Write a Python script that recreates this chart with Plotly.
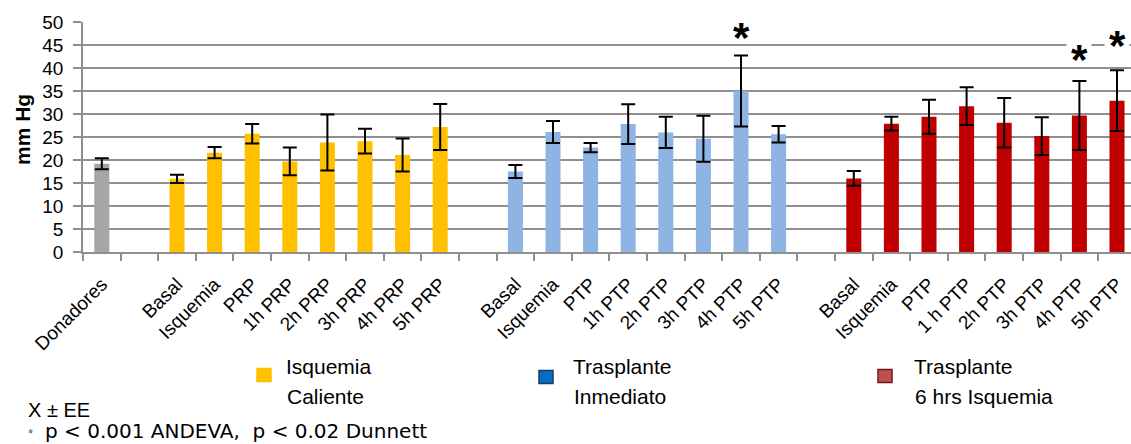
import plotly.graph_objects as go

# ---------------- data ----------------
donor_labels = ["Donadores"]
donor_mean = [19.2]
donor_err = [1.2]

wi_labels = ["Basal", "Isquemia", "PRP", "1h PRP", "2h PRP", "3h PRP", "4h PRP", "5h PRP"]
wi_mean = [15.9, 21.6, 25.7, 19.7, 23.8, 24.1, 21.1, 27.2]
wi_err = [0.9, 1.2, 2.1, 3.0, 6.1, 2.7, 3.6, 5.0]

ti_labels = ["Basal", "Isquemia", "PTP", "1h PTP", "2h PTP", "3h PTP", "4h PTP", "5h PTP"]
ti_mean = [17.5, 26.1, 22.7, 27.8, 26.0, 24.6, 35.0, 25.6]
ti_err = [1.4, 2.4, 1.0, 4.3, 3.4, 5.0, 7.7, 1.8]

t6_labels = ["Basal", "Isquemia", "PTP", "1 h PTP", "2h PTP", "3h PTP", "4h PTP", "5h PTP"]
t6_mean = [16.0, 27.9, 29.4, 31.7, 28.1, 25.2, 29.7, 32.9]
t6_err = [1.6, 1.5, 3.7, 4.1, 5.4, 4.1, 7.5, 6.6]

y_ticks = [0, 5, 10, 15, 20, 25, 30, 35, 40, 45, 50]
y_title = "mm Hg"

legend_texts = [["Isquemia", "Caliente"], ["Trasplante", "Inmediato"], ["Trasplante", "6 hrs Isquemia"]]
note_lines = ["X \u00b1 EE", "p < 0.001 ANDEVA,\u00a0\u00a0p < 0.02 Dunnett"]

# significance stars: (group, index within group, y position of star)
stars = [("ti", 6, 48.3), ("t6", 6, 43.5), ("t6", 7, 46.7)]

# ---------------- layout helpers ----------------
W, H = 1131, 444
ML, MT, MR, MB = 83, 22, 0, 192
PW = W - ML - MR
PH = H - MT - MB


def pxx(x):
    return (x - ML) / PW


def pxy(y):
    return (H - MB - y) / PH


starts = {"donor": 0, "wi": 2, "ti": 11, "t6": 20}
groups = [
    ("donor", donor_labels, donor_mean, donor_err, "#A6A6A6"),
    ("wi", wi_labels, wi_mean, wi_err, "#FFC000"),
    ("ti", ti_labels, ti_mean, ti_err, "#8EB4E3"),
    ("t6", t6_labels, t6_mean, t6_err, "#C00000"),
]

fig = go.Figure()
tickvals, ticktext = [], []
for key, labels, means, errs, color in groups:
    xs = [starts[key] + i for i in range(len(labels))]
    tickvals += xs
    ticktext += labels
    fig.add_trace(go.Bar(
        x=xs, y=means, width=0.4, marker=dict(color=color, line=dict(width=0)),
        error_y=dict(type="data", array=errs, visible=True, color="#000000", thickness=2, width=7),
        showlegend=False,
    ))

grid_col = "#8F8F8F"
fig.update_layout(
    width=W, height=H,
    margin=dict(l=ML, r=MR, t=MT, b=MB, pad=0),
    paper_bgcolor="white", plot_bgcolor="white",
    font=dict(family="Liberation Sans", color="#000000"),
    xaxis=dict(
        range=[-0.5, -0.5 + PW / 37.6], tickmode="array", tickvals=tickvals, ticktext=ticktext,
        tickangle=-45, ticks="", showgrid=False, zeroline=False,
        showline=True, linecolor=grid_col, linewidth=1.5,
        tickfont=dict(size=19, family="Liberation Sans"), ticklabelstandoff=12,
        minor=dict(ticks="outside", tickmode="linear", tick0=-0.5, dtick=1, ticklen=7,
                   tickcolor=grid_col, tickwidth=1.5, showgrid=False),
    ),
    yaxis=dict(
        range=[0, 50], tickmode="array", tickvals=y_ticks, ticks="outside", ticklen=8,
        tickcolor=grid_col, tickwidth=1.5, showgrid=True, gridcolor=grid_col, gridwidth=1.5,
        showline=True, linecolor=grid_col, linewidth=1.5, zeroline=False,
        tickfont=dict(size=19, family="Liberation Sans"), ticklabelstandoff=6,
    ),
    bargap=0.6,
)

ann = []
# y title
ann.append(dict(xref="paper", yref="paper", x=pxx(22), y=pxy(130), text="<b>" + y_title + "</b>",
                textangle=-90, showarrow=False, font=dict(size=21, family="Liberation Sans"),
                xanchor="center", yanchor="middle"))
# stars: white patch behind, then the asterisk
for key, idx, ys in stars:
    ann.append(dict(xref="x", yref="y", x=starts[key] + idx, y=ys, text=" ", showarrow=False,
                    font=dict(size=8), width=24, height=17, bgcolor="white", borderpad=0,
                    xanchor="center", yanchor="middle"))
    ann.append(dict(xref="x", yref="y", x=starts[key] + idx, y=ys, text="<b>*</b>", showarrow=False,
                    font=dict(size=42, family="Liberation Sans", color="#000000"),
                    xanchor="center", yanchor="middle", yshift=-8))

# legend swatches + texts
sw = [(264, 375, "#FFC000", "#FFC000", 284), (546, 377, "#0070C0", "#1F3864", 571), (885, 376, "#C0504D", "#6B1A1A", 912)]
shapes = []
for (cx, cy, fc, lc, tx), lines in zip(sw, legend_texts):
    shapes.append(dict(type="rect", xref="paper", yref="paper",
                       x0=pxx(cx - 7), x1=pxx(cx + 7), y0=pxy(cy + 6.5), y1=pxy(cy - 6.5),
                       fillcolor=fc, line=dict(color=lc, width=1.5)))
    ann.append(dict(xref="paper", yref="paper", x=pxx(tx), y=pxy(366), text=lines[0], showarrow=False,
                    xanchor="left", yanchor="middle", font=dict(size=21, family="Liberation Sans")))
    ann.append(dict(xref="paper", yref="paper", x=pxx(tx + 1), y=pxy(396), text=lines[1], showarrow=False,
                    xanchor="left", yanchor="middle", font=dict(size=21, family="Liberation Sans")))

# notes
ann.append(dict(xref="paper", yref="paper", x=pxx(26), y=pxy(410), text=note_lines[0], showarrow=False,
                xanchor="left", yanchor="middle", font=dict(size=20, family="Liberation Sans")))
ann.append(dict(xref="paper", yref="paper", x=pxx(26), y=pxy(433), text="*", showarrow=False,
                xanchor="left", yanchor="middle", font=dict(size=13, family="Liberation Sans", color="#2E5C8A")))
ann.append(dict(xref="paper", yref="paper", x=pxx(43), y=pxy(431), text=note_lines[1], showarrow=False,
                xanchor="left", yanchor="middle", font=dict(size=20, family="DejaVu Sans")))

fig.update_layout(annotations=ann, shapes=shapes)
fig.write_html("out.html", config={"displayModeBar": False},
               post_script="document.body.style.margin='0px';document.body.style.overflow='hidden';")
